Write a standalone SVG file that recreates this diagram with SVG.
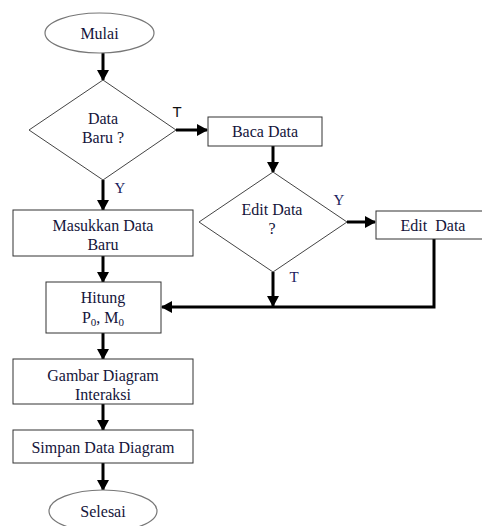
<svg xmlns="http://www.w3.org/2000/svg" width="482" height="526" viewBox="0 0 482 526">
<defs>
<marker id="ah" markerUnits="userSpaceOnUse" markerWidth="12" markerHeight="12" viewBox="0 0 12 12" refX="11" refY="6" orient="auto">
<path d="M1,0 L12,6 L1,12 Z" fill="#000"/>
</marker>
<style>
.box{fill:#fff;stroke:#333;stroke-width:1}
.ell{fill:#fff;stroke:#777;stroke-width:1.2}
.dia{fill:#fff;stroke:#444;stroke-width:1}
.t{font-family:"Liberation Serif","Times New Roman",serif;font-size:16px;fill:#14143a;text-anchor:middle}
.lbl{font-family:"Liberation Sans",Arial,sans-serif;font-size:15px;fill:#111;text-anchor:middle}
.lbs{font-family:"Liberation Serif","Times New Roman",serif;font-size:15px;fill:#1a1a5a;text-anchor:middle}
.c{fill:none;stroke:#000;stroke-width:3}
</style>
</defs>
<rect width="482" height="526" fill="#fff"/>
<g id="connectors">
<line class="c" x1="103" y1="53" x2="103" y2="80" marker-end="url(#ah)"/>
<line class="c" x1="176" y1="130" x2="207" y2="130" marker-end="url(#ah)"/>
<line class="c" x1="273" y1="146" x2="273" y2="172" marker-end="url(#ah)"/>
<line class="c" x1="347" y1="222" x2="375" y2="222" marker-end="url(#ah)"/>
<line class="c" x1="103" y1="180" x2="103" y2="210" marker-end="url(#ah)"/>
<line class="c" x1="273" y1="272" x2="273" y2="306" marker-end="url(#ah)"/>
<polyline class="c" points="434,239 434,307 162,307" marker-end="url(#ah)"/>
<line class="c" x1="103" y1="256" x2="103" y2="282" marker-end="url(#ah)"/>
<line class="c" x1="103" y1="333" x2="103" y2="359" marker-end="url(#ah)"/>
<line class="c" x1="103" y1="404" x2="103" y2="430" marker-end="url(#ah)"/>
<line class="c" x1="103" y1="463" x2="103" y2="490" marker-end="url(#ah)"/>
<text class="lbl" x="177" y="117">T</text>
<text class="lbs" x="120" y="193">Y</text>
<text class="lbs" x="339" y="205">Y</text>
<text class="lbs" x="294" y="282">T</text>
</g>
<g id="mulai">
<ellipse class="ell" cx="99.5" cy="33" rx="54.5" ry="20"/>
<text class="t" x="99.5" y="38.5">Mulai</text>
</g>
<g id="data-baru">
<polygon class="dia" points="103,80 176,130 103,180 29,130"/>
<text class="t" x="103" y="123.5">Data</text>
<text class="t" x="103" y="142.5">Baru ?</text>
</g>
<g id="baca-data">
<rect class="box" x="208" y="117" width="114" height="29"/>
<text class="t" x="265" y="137">Baca Data</text>
</g>
<g id="edit-data-q">
<polygon class="dia" points="273,172 347,222 273,272 199,222"/>
<text class="t" x="272" y="214.5">Edit Data</text>
<text class="t" x="272" y="234">?</text>
</g>
<g id="edit-data">
<rect class="box" x="376" y="211" width="114" height="28"/>
<text class="t" x="433" y="230.5" xml:space="preserve">Edit  Data</text>
</g>
<g id="masukkan">
<rect class="box" x="13" y="210" width="180" height="46"/>
<text class="t" x="103" y="230.5">Masukkan Data</text>
<text class="t" x="103" y="249.5">Baru</text>
</g>
<g id="hitung">
<rect class="box" x="46" y="282" width="115" height="51"/>
<text class="t" x="103" y="302.5">Hitung</text>
<text class="t" x="103" y="322.5">P<tspan font-size="11" dy="3">0</tspan><tspan dy="-3">, M</tspan><tspan font-size="11" dy="3">0</tspan></text>
</g>
<g id="gambar">
<rect class="box" x="13" y="359" width="180" height="45"/>
<text class="t" x="103" y="380.5">Gambar Diagram</text>
<text class="t" x="103" y="399.5">Interaksi</text>
</g>
<g id="simpan">
<rect class="box" x="13" y="430" width="180" height="33"/>
<text class="t" x="103" y="452.5">Simpan Data Diagram</text>
</g>
<g id="selesai">
<ellipse class="ell" cx="103" cy="511" rx="54" ry="21"/>
<text class="t" x="103" y="516.5">Selesai</text>
</g>
</svg>
